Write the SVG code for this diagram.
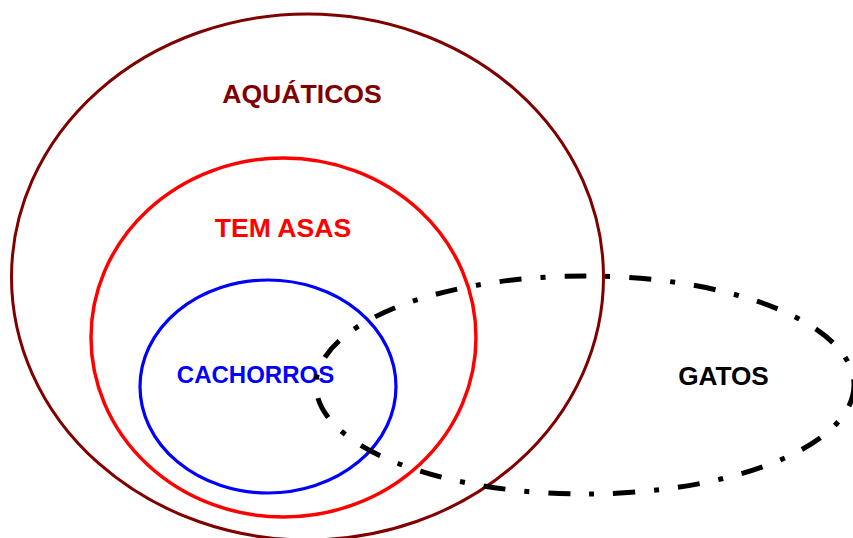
<svg xmlns="http://www.w3.org/2000/svg" width="853" height="538" viewBox="0 0 853 538">
  <style>
    .set { fill: none; }
    .lbl { font-family: "Liberation Sans", Arial, sans-serif; font-weight: bold; text-anchor: middle; }
  </style>
  <rect x="0" y="0" width="853" height="538" fill="#ffffff"/>
  <g id="aquaticos">
    <ellipse class="set" cx="307.5" cy="277" rx="296" ry="263" stroke="#800000" stroke-width="3"/>
    <text class="lbl" x="302" y="102.5" font-size="26.6" fill="#800000">AQUÁTICOS</text>
  </g>
  <g id="tem-asas">
    <ellipse class="set" cx="283.5" cy="337.5" rx="192.5" ry="179.5" stroke="#ff0000" stroke-width="3.5"/>
    <text class="lbl" x="283" y="236.5" font-size="26.6" fill="#ff0000">TEM ASAS</text>
  </g>
  <g id="cachorros">
    <ellipse class="set" cx="268" cy="386.5" rx="128" ry="106.5" stroke="#0000ff" stroke-width="3.2"/>
    <text class="lbl" x="255.5" y="383" font-size="24" fill="#0000ff">CACHORROS</text>
  </g>
  <g id="gatos">
    <text class="lbl" x="723.5" y="384.5" font-size="26.2" fill="#000000">GATOS</text>
    <ellipse class="set" cx="585" cy="385" rx="269" ry="109" stroke="#000000" stroke-width="5" stroke-dasharray="22 19 5 19"/>
  </g>
</svg>
